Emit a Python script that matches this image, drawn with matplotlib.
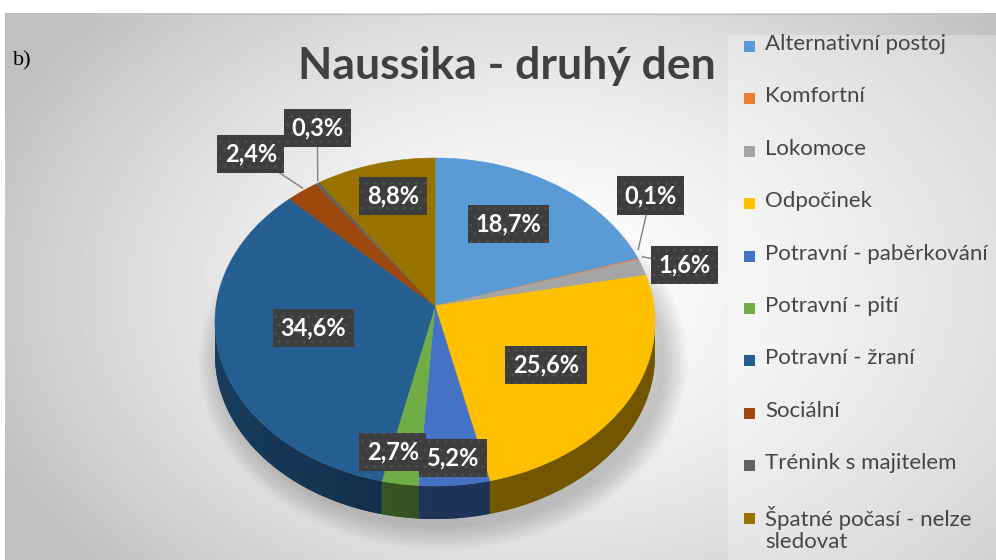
import textwrap
import numpy as np
import matplotlib
matplotlib.use("Agg")
import matplotlib.pyplot as plt
from matplotlib.patches import Polygon, Rectangle, Ellipse
from matplotlib.colors import to_rgb

categories = ["Alternativní postoj", "Komfortní", "Lokomoce", "Odpočinek",
              "Potravní - paběrkování", "Potravní - pití", "Potravní - žraní",
              "Sociální", "Trénink s majitelem", "Špatné počasí - nelze sledovat"]
shares = [18.7, 0.1, 1.6, 25.6, 5.2, 2.7, 34.6, 2.4, 0.3, 8.8]
colors = ["#5B9BD5", "#ED7D31", "#A5A5A5", "#FFC000", "#4472C4",
          "#70AD47", "#255E91", "#9E480E", "#636363", "#997300"]
title = "Naussika - druhý den"

# label placement: radius factor and angle nudge (deg) per slice
label_f = [0.6, 1.19, 1.16, 0.62, 0.93, 0.91, 0.57, 1.25, 1.21, 0.70]
label_dt = [0, -12, 7, 6, 0, 3, 0, -5, 6, 0]

W, H = 996, 560
cx, cy, rx, ry = 435, 322, 220, 164     # top face ellipse
apx, apy = 435, 306                      # apex of the wedges
depth = 33

FONT = ["Lato", "DejaVu Sans"]


def rim(t, dy=0.0):
    return cx + rx * np.sin(t), cy - ry * np.cos(t) + dy


fig = plt.figure(figsize=(W / 100, H / 100), dpi=100)
ax = fig.add_axes([0, 0, 1, 1])
ax.set_xlim(0, W)
ax.set_ylim(H, 0)
ax.axis("off")

# background gradient
yy, xx = np.mgrid[0:H, 0:W]
d = np.sqrt(((xx - 540) / 600.0) ** 2 + ((yy - 290) / 420.0) ** 2)
bg = 1 - 0.25 * np.clip(d, 0, 1) ** 1.5
bg[:13, :] = 1.0
bg[:, :5] = 1.0
ax.imshow(bg, cmap="gray", vmin=0, vmax=1, extent=(0, W, H, 0), zorder=0)
ax.plot([5, W], [13.5, 13.5], color="#c4c4c4", lw=1, zorder=1)
ax.add_patch(Rectangle((728, 35), W - 728, H - 35, facecolor="white",
                       alpha=0.3, lw=0, zorder=1))

# soft shadow below the pie
for k in range(10):
    ax.add_patch(Ellipse((cx + 8, cy + depth + 6), 2 * (rx + 2 + k * 2.5),
                         2 * (ry + 2 + k * 2.5), facecolor="black",
                         alpha=0.018, lw=0, zorder=2))

bounds = np.concatenate([[0], np.cumsum(shares)]) / 100.0 * 2 * np.pi

# side walls (front half only), shaded left-to-right
xcol = np.linspace(0, W, W)
kx = 0.45 + 0.2 * np.clip((cx - xcol) / rx, 0, 1)
for i in range(len(shares)):
    t0 = max(bounds[i], np.pi / 2)
    t1 = min(bounds[i + 1], 3 * np.pi / 2)
    if t1 <= t0:
        continue
    ts = np.linspace(t0, t1, max(3, int(np.degrees(t1 - t0)) + 2))
    xs, ys = rim(ts)
    pts = list(zip(xs, ys)) + list(zip(xs[::-1], ys[::-1] + depth))
    base = np.array(to_rgb(colors[i]))
    wall = Polygon(pts, closed=True, facecolor=tuple(base * 0.5), edgecolor="none",
                   zorder=3)
    ax.add_patch(wall)
    img = np.tile((kx[:, None] * base[None, :])[None, :, :], (2, 1, 1))
    im = ax.imshow(img, extent=(0, W, H, 0), aspect="auto", zorder=3.1,
                   interpolation="bilinear")
    im.set_clip_path(wall)
ax.set_xlim(0, W)
ax.set_ylim(H, 0)

# top faces
for i in range(len(shares)):
    ts = np.linspace(bounds[i], bounds[i + 1], max(3, int(np.degrees(bounds[i + 1] - bounds[i])) + 2))
    xs, ys = rim(ts)
    pts = [(apx, apy)] + list(zip(xs, ys))
    ax.add_patch(Polygon(pts, closed=True, facecolor=colors[i], edgecolor=colors[i],
                         lw=0.4, zorder=4))

# data labels
for i, v in enumerate(shares):
    tm = (bounds[i] + bounds[i + 1]) / 2
    t = tm + np.radians(label_dt[i])
    f = label_f[i]
    lx = apx + rx * f * np.sin(t)
    ly = apy - ry * f * np.cos(t)
    if f > 1:
        ex = apx + rx * np.sin(tm)
        ey = apy - ry * np.cos(tm) + (cy - apy) * abs(np.cos(tm))
        ax.plot([ex, lx], [ey, ly], color="#7f7f7f", lw=1, zorder=5)
    ax.text(lx, ly, f"{v:.1f}%".replace(".", ","), ha="center", va="center",
            fontsize=17, fontweight="bold", color="white", family=FONT, zorder=7,
            bbox=dict(boxstyle="square,pad=0.32", facecolor="#3d3d3d",
                      edgecolor="#4e4e4e", hatch="..", lw=0))

# legend
for i, name in enumerate(categories):
    y = 47 + i * 52.4
    ax.add_patch(Rectangle((744, y - 6), 11, 11, facecolor=colors[i], lw=0, zorder=6))
    ax.text(765, y - 13, textwrap.fill(name, 22), ha="left", va="top", fontsize=16,
            color="#454545", family=FONT, linespacing=1.15, zorder=6)

ax.text(507, 66, title, ha="center", va="center", fontsize=32, fontweight="bold",
        color="#404040", family=FONT, zorder=6)
ax.text(13, 61, "b)", ha="left", va="center", fontsize=16,
        family=["Liberation Serif", "DejaVu Serif"], color="black", zorder=6)

fig.savefig("out.png", dpi=100)
